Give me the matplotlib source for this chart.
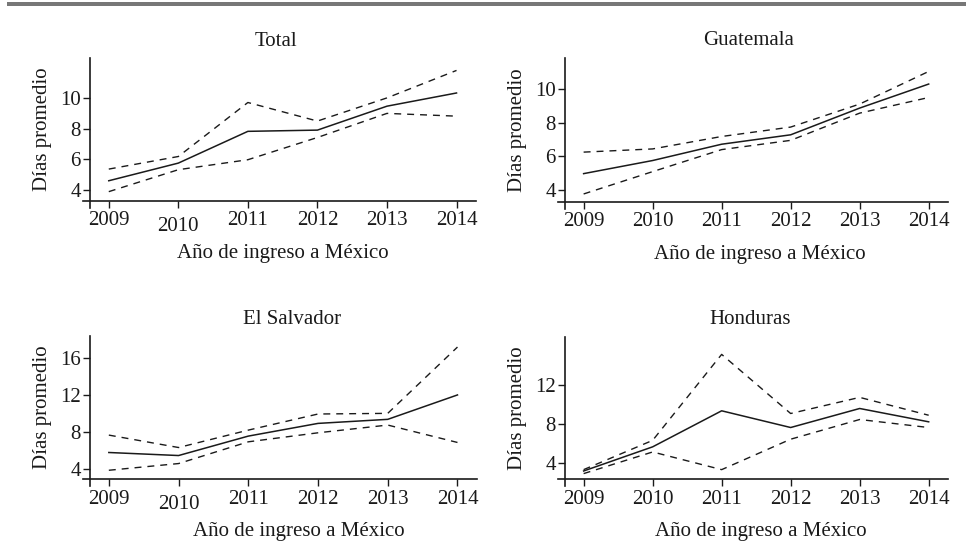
import matplotlib
matplotlib.use("Agg")
import matplotlib.pyplot as plt
from matplotlib.lines import Line2D
from matplotlib.patches import Rectangle

plt.rcParams['font.family'] = ['Liberation Serif', 'DejaVu Serif']
plt.rcParams['lines.scale_dashes'] = False

years = [2009, 2010, 2011, 2012, 2013, 2014]

# promedio y límites del intervalo
total_mean = [4.60, 5.75, 7.82, 7.90, 9.46, 10.32]
total_hi = [5.36, 6.18, 9.70, 8.49, 10.0, 11.79]
total_lo = [3.89, 5.32, 5.97, 7.42, 8.99, 8.81]

guat_mean = [4.97, 5.75, 6.72, 7.28, 8.87, 10.30]
guat_hi = [6.25, 6.44, 7.18, 7.74, 9.11, 11.05]
guat_lo = [3.76, 5.09, 6.40, 6.95, 8.57, 9.50]

salv_mean = [5.75, 5.42, 7.53, 8.91, 9.35, 12.0]
salv_hi = [7.64, 6.29, 8.18, 9.93, 10.0, 17.2]
salv_lo = [3.82, 4.55, 6.91, 7.89, 8.73, 6.84]

hond_mean = [3.13, 5.63, 9.36, 7.63, 9.60, 8.22]
hond_hi = [3.27, 6.30, 15.2, 9.08, 10.75, 8.90]
hond_lo = [2.86, 5.10, 3.27, 6.42, 8.46, 7.63]

W, H = 966, 554
fig = plt.figure(figsize=(W / 100, H / 100), dpi=100)

# gray rule at the top
fig.add_artist(Rectangle((7 / W, 1 - 6 / H), 1 - 7 / W, 4 / H,
                         transform=fig.transFigure, color='#777777', lw=0))

# (title, mean, hi, lo, left, right, top, bottom px, ylim, yticks, title x, xlabel x, low 2010)
panels = [
    ("Total", total_mean, total_hi, total_lo, 90, 476, 58, 201,
     (3.28, 12.6), [4, 6, 8, 10], 0.482, 0.50, True),
    ("Guatemala", guat_mean, guat_hi, guat_lo, 565, 948, 58, 201.7,
     (3.30, 11.85), [4, 6, 8, 10], 0.48, 0.509, False),
    ("El Salvador", salv_mean, salv_hi, salv_lo, 90, 477, 336, 479.3,
     (2.84, 18.4), [4, 8, 12, 16], 0.522, 0.54, True),
    ("Honduras", hond_mean, hond_hi, hond_lo, 565, 948, 337, 479.3,
     (2.27, 17.0), [4, 8, 12], 0.483, 0.51, False),
]

fs = 15
col = '#1a1a1a'
for (title, mean, hi, lo, l, r, t, b, ylim, yt, tx, lx, low2010) in panels:
    ax = fig.add_axes([l / W, 1 - b / H, (r - l) / W, (b - t) / H])
    ax.plot(years, mean, color=col, lw=1.1)
    ax.plot(years, hi, color=col, lw=1.0, dashes=(5, 4.3))
    ax.plot(years, lo, color=col, lw=1.0, dashes=(5, 4.3))
    ax.set_xlim(2008.73, 2014.28)
    ax.set_ylim(*ylim)
    ax.set_xticks(years)
    ax.set_xticklabels([str(y) for y in years])
    ax.set_yticks(yt)
    ax.set_yticklabels([str(v) for v in yt])
    for s in ['top', 'right', 'left', 'bottom']:
        ax.spines[s].set_visible(False)
    # axis lines, each extended by a tick length past the other
    ext_x = 7 / (r - l)
    ext_y = 7 / (b - t)
    ax.add_line(Line2D([0, 0], [-ext_y, 1], transform=ax.transAxes,
                       color=col, lw=1.2, clip_on=False))
    ax.add_line(Line2D([-ext_x, 1], [0, 0], transform=ax.transAxes,
                       color=col, lw=1.2, clip_on=False))
    ax.tick_params(direction='out', length=5, width=1.0, color=col,
                   labelsize=fs, labelcolor=col)
    ax.tick_params(axis='y', pad=1.5)
    ax.tick_params(axis='x', pad=2.5)
    if low2010:
        ax.xaxis.get_major_ticks()[1].set_pad(6.5)
    ax.set_title(title, fontsize=fs, color=col, x=tx, pad=9)
    ax.set_xlabel("Año de ingreso a México", fontsize=fs, color=col)
    ax.xaxis.set_label_coords(lx, -0.30)
    ax.set_ylabel("Días promedio", fontsize=fs, color=col)
    ax.yaxis.set_label_coords(-38 / (r - l), 0.5)

fig.savefig("out.png", dpi=100)
